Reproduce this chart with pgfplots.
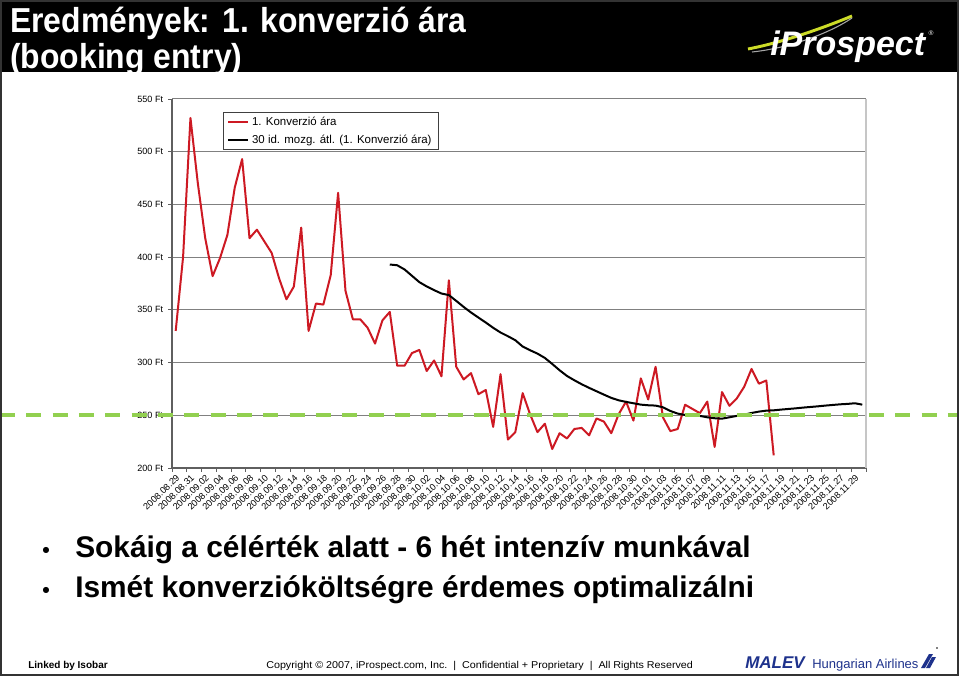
\documentclass[border=0pt]{standalone}
\usepackage{fontspec}
\setmainfont{Liberation Sans}
\usepackage{graphicx}
\usepackage{pgfplots}
\pgfplotsset{compat=1.18}
\definecolor{xlred}{RGB}{205,25,35}
\definecolor{xlgreen}{RGB}{146,208,80}
\definecolor{gridgray}{RGB}{128,128,128}
\definecolor{axgray}{RGB}{95,95,95}
\definecolor{malevblue}{RGB}{30,50,140}
\definecolor{swoosh}{RGB}{205,220,40}
\begin{document}
\begin{tikzpicture}[x=0.75pt,y=0.75pt]
\path[use as bounding box] (0,0) rectangle (959,678);
\fill[white] (0,0) rectangle (959,678);
% title bar
\fill[black] (0,606) rectangle (959,678);
\node[anchor=base west, inner sep=0pt, text=white, font=\fontsize{26}{30}\selectfont\bfseries] at (10,645) {\scalebox{0.92}[1]{Eredmények: 1. konverzió ára}};
\node[anchor=base west, inner sep=0pt, text=white, font=\fontsize{26}{30}\selectfont\bfseries] at (10,609) {\scalebox{0.92}[1]{(booking entry)}};
\fill[white] (0,0) rectangle (959,606);
% logo
\draw[swoosh, line width=2.2pt] (748,629) .. controls (785,636) and (828,652) .. (852,662);
\draw[gray!70, line width=0.8pt] (752,626) .. controls (790,630) and (830,645) .. (852,660);
\node[anchor=base west, inner sep=0pt, text=white, font=\fontsize{25.5}{28}\selectfont\bfseries\itshape] at (770,622) {iProspect};
\node[anchor=center, inner sep=0pt, text=white, font=\fontsize{5}{6}\selectfont] at (931,645) {®};

\begin{axis}[
  at={(129pt,157.5pt)}, anchor=south west,
  scale only axis, width=520.5pt, height=276.75pt,
  xmin=-0.5, xmax=93.5, ymin=200, ymax=550,
  clip=false,
  axis lines*=left,
  axis line style={axgray, line width=0.9pt},
  ytick={200,250,...,550},
  yticklabels={200 Ft,250 Ft,300 Ft,350 Ft,400 Ft,450 Ft,500 Ft,550 Ft},
  ymajorgrids, major grid style={gridgray, line width=0.75pt},
  xtick={0,2,...,92},
  xticklabels={2008.08.29,2008.08.31,2008.09.02,2008.09.04,2008.09.06,2008.09.08,2008.09.10,2008.09.12,2008.09.14,2008.09.16,2008.09.18,2008.09.20,2008.09.22,2008.09.24,2008.09.26,2008.09.28,2008.09.30,2008.10.02,2008.10.04,2008.10.06,2008.10.08,2008.10.10,2008.10.12,2008.10.14,2008.10.16,2008.10.18,2008.10.20,2008.10.22,2008.10.24,2008.10.26,2008.10.28,2008.10.30,2008.11.01,2008.11.03,2008.11.05,2008.11.07,2008.11.09,2008.11.11,2008.11.13,2008.11.15,2008.11.17,2008.11.19,2008.11.21,2008.11.23,2008.11.25,2008.11.27,2008.11.29},
  minor xtick={-0.5,1.5,...,93.5},
  tick align=outside,
  major tick length=3pt, minor tick length=3pt,
  major x tick style={draw=none},
  minor x tick style={axgray, line width=0.6pt},
  ytick style={axgray, line width=0.6pt},
  xticklabel style={rotate=44, anchor=north east, inner sep=1pt, font=\fontsize{6.9}{7}\selectfont},
  yticklabel style={font=\fontsize{6.8}{7}\selectfont, inner sep=3.5pt},
  legend style={at={(0.0735,0.965)}, anchor=north west, draw=black!75, line width=0.6pt,
     font=\fontsize{8.6}{9}\selectfont, inner xsep=3pt, inner ysep=1.5pt, row sep=1.5pt,
     cells={anchor=west}},
  legend image code/.code={\draw[#1] (0pt,0pt) -- (15pt,0pt);},
]
\draw[gray!45, line width=1.5pt] (rel axis cs:1,0) -- (rel axis cs:1,1);
\addplot[xlred, line width=1.5pt, line join=round] coordinates {
(0,330)(1,400)(2,532)(3,470)(4,418)(5,382)(6,399)(7,421)(8,466)(9,493)
(10,418)(11,426)(12,415)(13,404)(14,380)(15,360)(16,372)(17,428)(18,330)(19,356)
(20,355)(21,383)(22,461)(23,368)(24,341)(25,341)(26,333)(27,318)(28,340)(29,348)
(30,297)(31,297)(32,309)(33,312)(34,292)(35,302)(36,287)(37,378)(38,296)(39,284)
(40,290)(41,270)(42,274)(43,239)(44,289)(45,227)(46,234)(47,271)(48,251)(49,234)
(50,242)(51,218)(52,233)(53,228)(54,237)(55,238)(56,231)(57,247)(58,244)(59,233)
(60,251)(61,263)(62,245)(63,285)(64,265)(65,296)(66,248)(67,235)(68,237)(69,260)
(70,256)(71,252)(72,263)(73,220)(74,272)(75,259)(76,266)(77,277)(78,294)(79,280)
(80,283)(81,212)};
\addlegendentry{1. Konverzió ára}
\addplot[black, line width=1.5pt, line join=round] coordinates {
(29,393)(30,392.3)(31,388.3)(32,382.3)(33,376.3)(34,372.2)(35,368.7)(36,365.5)(37,364)(38,358.5)
(39,352.8)(40,347.5)(41,342.7)(42,338)(43,333)(44,328.5)(45,325)(46,321.2)(47,315.2)(48,311.7)
(49,308.5)(50,304.4)(51,298.7)(52,292.7)(53,287.3)(54,283.2)(55,279.4)(56,276)(57,272.8)(58,269.6)
(59,266.5)(60,264.2)(61,262.7)(62,261.4)(63,260.1)(64,259.5)(65,259.2)(66,257.6)(67,254.1)(68,251.6)
(69,250.3)(70,250)(71,249.4)(72,248.1)(73,247.2)(74,246.8)(75,248.1)(76,249.4)(77,250.6)(78,252.2)
(79,253.5)(80,254.4)(81,254.7)(82,255.4)(83,256)(84,256.6)(85,257.3)(86,257.9)(87,258.5)(88,259.2)
(89,259.8)(90,260.4)(91,260.8)(92,261.4)(93,260.1)};
\addlegendentry{30 id. mozg. átl. (1. Konverzió ára)}
\addplot[forget plot, xlgreen, line width=3pt, dash pattern=on 11.25pt off 8.5pt] coordinates {(-23.8,250) (106.1,250)};
\end{axis}

% bullets
\node[anchor=base, inner sep=0pt, font=\fontsize{16}{18}\selectfont\bfseries] at (46,121) {•};
\node[anchor=base west, inner sep=0pt, font=\fontsize{22.4}{26}\selectfont\bfseries] at (75,121) {Sokáig a célérték alatt - 6 hét intenzív munkával};
\node[anchor=base, inner sep=0pt, font=\fontsize{16}{18}\selectfont\bfseries] at (46,81) {•};
\node[anchor=base west, inner sep=0pt, font=\fontsize{22.4}{26}\selectfont\bfseries] at (75,81) {Ismét konverzióköltségre érdemes optimalizálni};

% footer
\node[anchor=base west, inner sep=0pt, font=\fontsize{7.5}{9}\selectfont\bfseries] at (28,10) {Linked by Isobar};
\node[anchor=base west, inner sep=0pt] at (266,10) {\resizebox{320pt}{5.4pt}{Copyright © 2007, iProspect.com, Inc.\ \ |\ \ Confidential + Proprietary\ \ |\ \ All Rights Reserved}};
\node[anchor=base west, inner sep=0pt, text=malevblue, font=\fontsize{12.75}{14}\selectfont\bfseries\itshape] at (745,10) {MALEV};
\node[anchor=base west, inner sep=0pt, text=malevblue, font=\fontsize{9.75}{12}\selectfont] at (812,10) {Hungarian Airlines};
\fill[malevblue] (921,10) -- (925,10) -- (933,24) -- (929,24) -- cycle;
\fill[malevblue] (926,10) -- (930,10) -- (936,21) -- (932,21) -- cycle;
\fill[black] (937,30) circle (0.8);
% frame
\draw[black!80, line width=1.2pt] (0.8,3) rectangle (958.2,677.2);
\end{tikzpicture}
\end{document}
